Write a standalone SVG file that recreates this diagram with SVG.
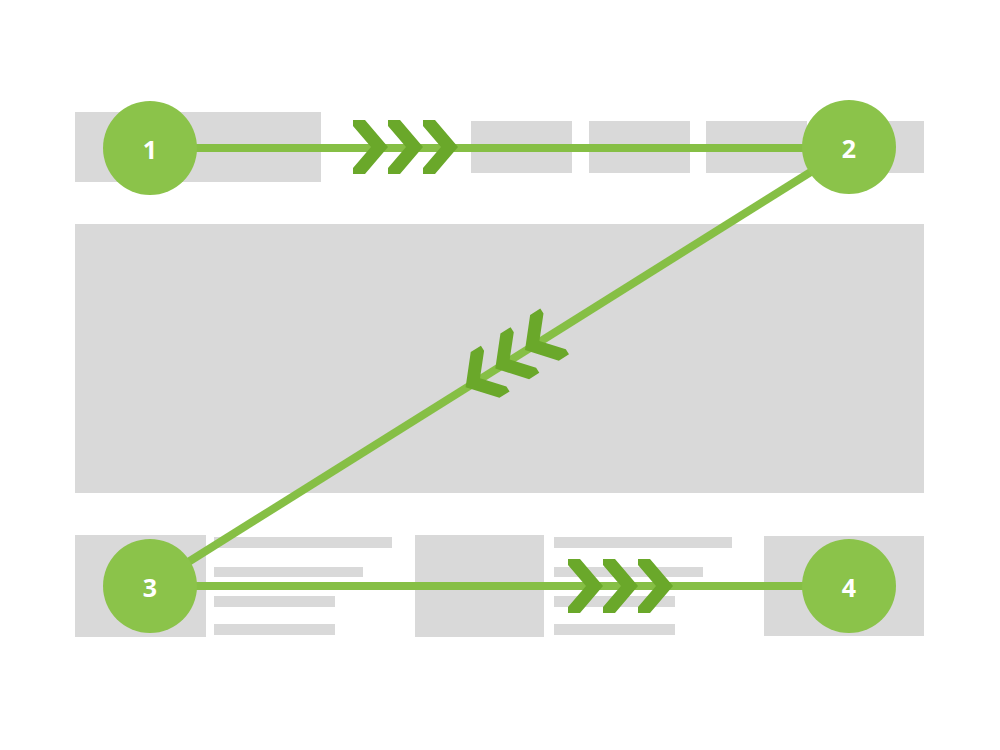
<svg xmlns="http://www.w3.org/2000/svg" width="1000" height="750" viewBox="0 0 1000 750">
<style>
.blk{fill:#d9d9d9}
.ln{stroke:#86bf45;stroke-width:8;fill:none}
.chev{fill:#6aa82a}
.node circle{fill:#8bc34a}
.node text{fill:#ffffff;font-family:"Open Sans","Liberation Sans",sans-serif;font-weight:bold;font-size:25px;text-anchor:middle;dominant-baseline:central}
</style>
<defs>
<polygon id="chv" points="-35,-27 -23,-27 0,0 -23,27 -35,27 -35,21 -17,0 -35,-21"/>
</defs>
<rect width="1000" height="750" fill="#ffffff"/>
<g id="layout">
<rect class="blk" x="75" y="112" width="246" height="70"/>
<rect class="blk" x="471" y="121" width="101" height="52"/>
<rect class="blk" x="589" y="121" width="101" height="52"/>
<rect class="blk" x="706" y="121" width="101" height="52"/>
<rect class="blk" x="823" y="121" width="101" height="52"/>
<rect class="blk" x="75" y="224" width="849" height="269"/>
<rect class="blk" x="75" y="535" width="131" height="102"/>
<rect class="blk" x="214" y="537" width="178" height="11"/>
<rect class="blk" x="214" y="567" width="149" height="10"/>
<rect class="blk" x="214" y="596" width="121" height="11"/>
<rect class="blk" x="214" y="624" width="121" height="11"/>
<rect class="blk" x="415" y="535" width="129" height="102"/>
<rect class="blk" x="554" y="537" width="178" height="11"/>
<rect class="blk" x="554" y="567" width="149" height="10"/>
<rect class="blk" x="554" y="596" width="121" height="11"/>
<rect class="blk" x="554" y="624" width="121" height="11"/>
<rect class="blk" x="764" y="536" width="160" height="100"/>
</g>
<g id="connectors">
<line class="ln" x1="150" y1="148" x2="849" y2="148"/>
<line class="ln" x1="849" y1="148" x2="150" y2="586"/>
<line class="ln" x1="150" y1="586" x2="849" y2="586"/>
<use href="#chv" class="chev" transform="translate(388,147)"/>
<use href="#chv" class="chev" transform="translate(423,147)"/>
<use href="#chv" class="chev" transform="translate(458,147)"/>
<use href="#chv" class="chev" transform="translate(525,350) rotate(147.9)"/>
<use href="#chv" class="chev" transform="translate(495.3,368.6) rotate(147.9)"/>
<use href="#chv" class="chev" transform="translate(465.6,387.2) rotate(147.9)"/>
<use href="#chv" class="chev" transform="translate(603,586)"/>
<use href="#chv" class="chev" transform="translate(638,586)"/>
<use href="#chv" class="chev" transform="translate(673,586)"/>
</g>
<g id="node1" class="node"><circle cx="150" cy="148" r="47"/><text x="150" y="149">1</text></g>
<g id="node2" class="node"><circle cx="849" cy="147" r="47"/><text x="849" y="148">2</text></g>
<g id="node3" class="node"><circle cx="150" cy="586" r="47"/><text x="150" y="587">3</text></g>
<g id="node4" class="node"><circle cx="849" cy="586" r="47"/><text x="849" y="587">4</text></g>
</svg>
